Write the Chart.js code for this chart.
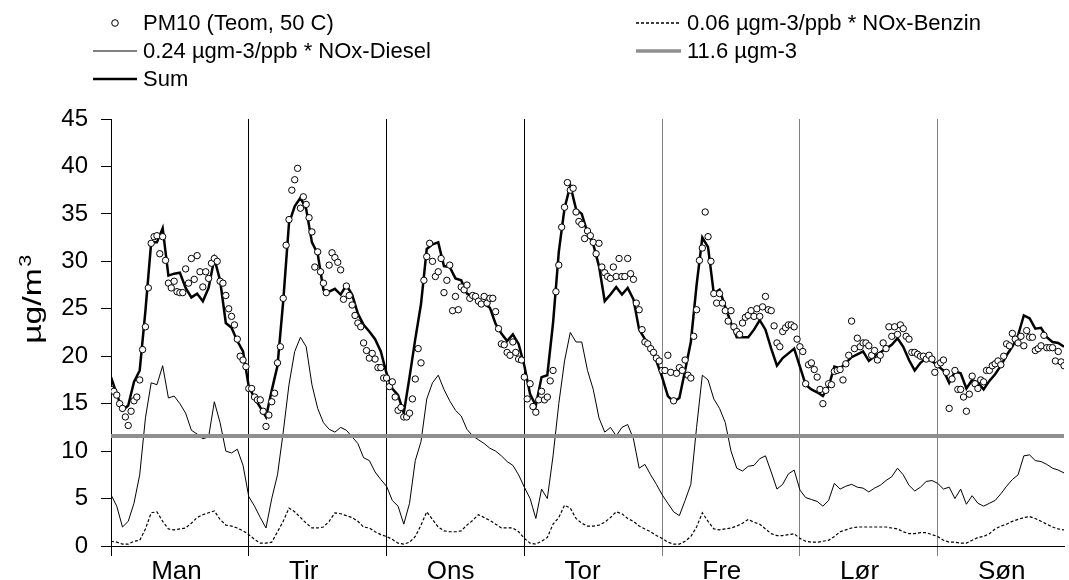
<!DOCTYPE html>
<html>
<head>
<meta charset="utf-8">
<script src="https://cdn.jsdelivr.net/npm/chart.js@4.4.1/dist/chart.umd.min.js"></script>
<style>
  body { margin: 0; background: #fff; width: 1069px; height: 580px; overflow: hidden; position: relative; }
  #myChart { position: absolute; left: 0; top: 0; }
  #legend { position: absolute; left: 0; top: 0; }
</style>
</head>
<body>
<canvas id="myChart" width="1069" height="580"></canvas>
<svg id="legend" width="1069" height="100" font-family="Liberation Sans, Arial, sans-serif" font-size="22" fill="#000">
  <circle cx="115" cy="23" r="3.3" fill="#fff" stroke="#000" stroke-width="1"/>
  <text x="143" y="22.5" dominant-baseline="central">PM10 (Teom, 50 C)</text>
  <line x1="93" y1="51" x2="137" y2="51" stroke="#000" stroke-width="1"/>
  <text x="143" y="50" dominant-baseline="central">0.24 µgm-3/ppb * NOx-Diesel</text>
  <line x1="93" y1="79" x2="137" y2="79" stroke="#000" stroke-width="2.5"/>
  <text x="143" y="78" dominant-baseline="central">Sum</text>
  <line x1="636" y1="23" x2="679" y2="23" stroke="#000" stroke-width="1.3" stroke-dasharray="3,2"/>
  <text x="687" y="22.5" dominant-baseline="central">0.06 µgm-3/ppb * NOx-Benzin</text>
  <line x1="636" y1="51" x2="681" y2="51" stroke="#8f8f8f" stroke-width="3.5"/>
  <text x="687" y="50" dominant-baseline="central">11.6 µgm-3</text>
</svg>
<script>
// weekdays (one per 24 h)
var days = ['Man', 'Tir', 'Ons', 'Tor', 'Fre', 'Lør', 'Søn'];

// PM10 (Teom, 50 C), half-hourly
var pm10 = [
  16.5,16.3,15.9,15.0,14.5,13.6,12.7,14.2,15.3,15.7,17.5,20.7,23.1,27.2,31.9,32.6,32.7,30.8,32.6,30.1,27.7,27.2,27.9,26.8,26.7,26.7,29.2,27.7,30.3,28.1,30.6,28.9,27.3,28.9,28.2,29.8,30.3,30.0,27.9,27.7,26.4,25.0,24.2,23.3,21.8,20.0,19.6,18.9,
  16.6,16.6,15.7,15.4,15.4,14.2,12.6,13.8,15.2,16.1,19.3,21.0,26.1,31.7,34.4,37.5,38.6,39.8,35.6,36.8,36.0,34.6,33.1,29.4,31.0,28.9,27.7,26.7,29.6,30.9,30.4,29.9,29.1,26.0,27.4,26.4,25.4,24.3,23.5,23.1,21.4,20.6,19.8,20.3,19.7,18.8,18.8,17.7,
  17.7,16.8,17.3,15.7,14.3,14.6,13.6,13.6,14.0,15.5,17.6,20.8,19.3,28.0,30.5,31.9,30.0,28.4,28.9,30.3,26.7,28.0,29.6,24.8,26.3,24.9,27.3,27.0,27.5,26.1,26.4,26.3,25.8,25.5,26.3,25.6,26.1,26.1,24.7,22.9,21.3,21.2,20.4,20.1,21.5,20.4,19.7,19.6,
  17.8,15.5,17.1,14.7,14.1,15.4,16.3,15.4,15.7,17.4,18.5,26.8,29.6,33.6,35.7,38.3,37.5,37.7,35.2,34.2,33.9,32.4,33.2,32.7,32.0,30.8,31.9,29.4,28.8,28.4,28.2,29.4,28.4,30.3,28.4,28.4,30.3,28.7,28.1,25.6,24.9,22.8,21.5,21.3,20.8,20.4,19.8,19.5,
  18.5,18.5,20.1,18.3,15.3,18.2,18.8,18.5,19.6,18.0,17.7,22.1,24.9,30.1,31.4,35.2,32.6,30.0,26.6,25.6,26.6,25.6,24.8,23.7,24.8,23.1,22.6,22.3,23.5,24.1,24.3,24.8,24.2,25.0,24.2,25.2,26.3,24.9,24.8,23.2,21.4,21.0,22.6,23.0,23.3,23.3,23.1,21.8,
  21.0,20.5,17.1,19.1,19.3,18.6,17.8,16.5,15.0,16.4,17.1,17.0,18.4,18.5,18.6,17.5,19.2,20.1,23.7,20.8,21.9,21.0,21.4,21.4,21.1,20.1,20.6,19.6,20.1,21.4,20.8,23.1,22.1,23.1,22.3,23.3,22.9,22.1,21.8,20.4,20.4,20.2,20.0,20.0,19.7,20.1,19.7,18.3,
  19.1,19.3,19.6,18.3,14.5,17.6,18.5,16.5,16.5,15.7,14.2,16.0,17.9,17.1,16.6,17.5,17.3,18.5,18.5,19.0,19.2,19.5,19.1,20.0,21.3,21.1,22.4,21.8,21.4,22.1,21.1,22.7,22.0,22.0,20.6,20.8,21.1,22.2,20.9,20.9,20.9,19.5,20.5,19.4,19.0
];

// 0.24 µgm-3/ppb * NOx-Diesel, hourly
var diesel = [
  5.4,4.2,2.0,2.6,4.5,7.5,13.5,17.2,17.0,19.0,15.6,15.8,15.0,14.0,12.2,11.8,11.3,11.5,15.2,13.0,10.0,9.8,10.2,8.5,
  5.2,4.2,3.0,1.9,5.0,7.5,12.0,17.0,20.5,22.0,21.0,17.0,14.5,13.0,12.3,12.0,12.5,12.2,11.5,10.8,9.3,9.0,7.8,7.0,
  6.3,4.8,4.2,2.3,4.5,9.0,11.0,15.5,17.2,18.0,16.5,15.3,14.3,13.7,12.3,11.6,11.2,10.8,10.3,10.0,9.5,8.9,8.5,7.5,
  6.2,5.0,2.9,6.0,5.0,9.5,15.0,19.5,22.5,21.5,21.5,18.5,16.5,13.5,12.0,12.5,11.6,12.5,12.8,11.3,8.2,8.6,7.5,6.5,
  5.4,4.5,3.6,3.2,4.8,6.5,12.5,18.0,17.5,15.5,14.5,13.0,10.0,8.2,7.9,8.4,8.5,9.2,9.5,7.8,6.0,6.5,7.6,8.0,
  5.9,5.1,4.9,4.7,4.2,4.8,6.6,6.0,6.3,6.5,6.2,6.1,5.7,6.1,6.4,6.9,7.3,8.2,7.5,6.4,5.8,6.2,6.8,6.9,
  6.6,6.0,6.2,5.0,6.0,4.4,5.3,4.5,4.2,4.5,4.8,5.5,6.3,7.0,7.5,9.5,9.6,9.0,8.9,8.6,8.2,8.0,7.7
];

// 0.06 µgm-3/ppb * NOx-Benzin, hourly
var benzin = [
  0.5,0.4,0.2,0.2,0.5,0.6,1.8,3.5,3.6,2.6,1.8,1.7,1.8,1.9,2.4,3.0,3.3,3.5,3.7,2.8,2.2,2.1,1.9,1.6,
  1.2,0.7,0.3,0.3,0.4,1.5,2.6,4.0,3.6,3.0,2.4,1.9,1.9,2.0,2.6,3.5,3.4,3.2,3.0,2.6,2.0,1.9,1.5,1.2,
  1.0,0.7,0.3,0.2,0.4,1.0,2.2,3.6,2.8,2.0,1.6,1.5,1.5,1.6,2.2,2.7,3.3,3.0,2.7,2.3,1.9,1.9,1.9,1.5,
  0.8,0.3,0.2,0.5,0.9,2.3,3.0,4.3,4.0,2.9,2.4,2.1,2.1,2.2,2.5,3.0,3.6,3.4,2.9,2.6,2.1,1.8,1.5,1.1,
  0.8,0.4,0.2,0.2,0.5,1.0,2.0,3.5,2.6,1.8,1.7,1.8,1.9,2.1,2.4,2.8,2.5,2.3,1.8,1.3,1.1,1.1,1.2,1.3,
  0.8,0.5,0.4,0.4,0.5,0.6,1.0,1.5,1.7,1.9,2.0,2.0,2.0,2.0,2.0,2.0,1.9,1.8,1.5,1.3,1.3,1.4,1.4,1.2,
  1.0,0.6,0.4,0.4,0.3,0.3,0.6,0.9,1.0,1.3,1.8,2.1,2.3,2.6,2.8,3.0,3.1,2.9,2.6,2.3,2.0,1.8,1.7
];

// Sum, hourly
var sum = [
  17.8,16.0,14.3,14.8,17.3,18.5,24.8,32.0,32.0,33.5,28.5,28.7,28.8,27.2,26.2,26.6,25.8,27.2,30.3,28.0,23.5,23.0,21.6,20.5,
  16.8,15.6,14.6,13.6,16.4,19.0,25.8,34.0,35.8,36.7,35.5,32.0,30.8,27.0,26.8,27.1,26.5,27.5,26.5,24.5,23.3,22.6,21.8,20.5,
  18.2,16.6,15.9,14.0,17.8,21.8,25.5,31.3,31.8,32.0,29.5,29.4,28.2,28.0,26.6,26.3,25.9,25.5,25.1,23.4,22.4,21.6,22.3,21.3,
  19.0,16.0,14.8,17.8,18.0,23.5,31.0,35.6,38.0,35.5,35.0,33.0,31.8,29.5,25.8,26.5,27.3,26.5,27.2,26.0,22.8,21.8,21.0,19.5,
  17.8,15.8,15.2,15.6,18.5,21.5,27.5,32.5,31.5,26.6,27.0,25.2,23.5,22.0,22.0,22.0,22.8,23.8,22.8,20.8,19.0,19.8,20.3,20.8,
  18.9,17.0,16.5,16.2,15.8,16.8,18.9,18.7,19.3,19.9,20.2,20.5,19.5,20.0,20.4,20.8,21.2,21.9,21.0,19.6,18.5,19.3,19.8,19.5,
  19.0,18.5,17.2,18.4,18.2,16.6,17.5,17.2,16.5,17.4,18.1,19.0,20.1,21.0,22.2,24.3,24.0,22.9,23.0,22.0,21.5,21.4,21.0
];

var baseLevel = 11.6;

function pts(vals, step) {
  return vals.map(function (v, i) { return { x: i * step, y: v }; });
}

// y axis title µg/m with raised 3
var yTitle = {
  id: 'yTitle',
  afterDraw: function (chart) {
    var c = chart.ctx;
    var font = "'Liberation Sans', Arial, sans-serif";
    c.save();
    c.fillStyle = '#000';
    c.textBaseline = 'alphabetic';
    c.font = '25px ' + font;
    var w = c.measureText('µg/m').width;
    c.font = '16px ' + font;
    var w3 = c.measureText('3').width;
    var stretch = 1.35;
    var total = (w + w3) * stretch;
    c.translate(41, 300 + total / 2);
    c.rotate(-Math.PI / 2);
    c.scale(stretch, 1);
    c.font = '25px ' + font;
    c.fillText('µg/m', 0, 0);
    c.font = '16px ' + font;
    c.fillText('3', w + 1, -10);
    c.restore();
  }
};

Chart.defaults.font.family = "'Liberation Sans', Arial, Helvetica, sans-serif";
Chart.defaults.color = '#000';

var ctx = document.getElementById('myChart').getContext('2d');
var myChart = new Chart(ctx, {
  type: 'line',
  data: {
    datasets: [{
      label: 'PM10 (Teom, 50 C)',
      data: pts(pm10, 0.5),
      showLine: false,
      pointRadius: 3.2,
      pointBorderWidth: 1,
      pointBorderColor: '#000',
      pointBackgroundColor: '#fff'
    }, {
      label: 'Sum',
      data: pts(sum, 1),
      borderColor: '#000',
      borderWidth: 2.5,
      pointRadius: 0
    }, {
      label: '11.6 µgm-3',
      data: [{ x: 0, y: baseLevel }, { x: 168, y: baseLevel }],
      borderColor: '#8f8f8f',
      borderWidth: 4,
      pointRadius: 0
    }, {
      label: '0.24 µgm-3/ppb * NOx-Diesel',
      data: pts(diesel, 1),
      borderColor: '#000',
      borderWidth: 1,
      pointRadius: 0
    }, {
      label: '0.06 µgm-3/ppb * NOx-Benzin',
      data: pts(benzin, 1),
      borderColor: '#000',
      borderWidth: 1.2,
      borderDash: [3, 2],
      pointRadius: 0
    }]
  },
  options: {
    responsive: false,
    animation: false,
    devicePixelRatio: 1,
    layout: { padding: { top: 119, left: 0, right: 0, bottom: 0 } },
    plugins: { legend: { display: false }, tooltip: { enabled: false } },
    scales: {
      x: {
        type: 'linear',
        min: 0,
        max: 166,
        afterBuildTicks: function (s) {
          var t = [];
          for (var d = 0; d < days.length; d++) {
            t.push({ value: d * 24 });
            t.push({ value: d * 24 + 7 });
          }
          s.ticks = t;
        },
        afterFit: function (s) { s.height = 34; },
        grid: {
          color: function (c) {
            var v = c.tick ? c.tick.value : 1;
            if (v % 24 !== 0) return 'rgba(0,0,0,0)';
            return v >= 96 ? '#808080' : '#000';
          },
          tickLength: 10,
          drawOnChartArea: true
        },
        border: { color: '#000', width: 1 },
        ticks: {
          autoSkip: false,
          maxRotation: 0,
          align: 'start',
          padding: 0,
          font: { size: 26 },
          callback: function (v) { return v % 24 === 7 ? days[Math.floor(v / 24)] : ''; }
        }
      },
      y: {
        min: 0,
        max: 45,
        afterFit: function (s) { s.width = 111; },
        ticks: { stepSize: 5, padding: 13, font: { size: 24 } },
        grid: { drawOnChartArea: false, tickLength: 10, color: '#000' },
        border: { color: '#000' }
      }
    }
  },
  plugins: [yTitle]
});
</script>
</body>
</html>
